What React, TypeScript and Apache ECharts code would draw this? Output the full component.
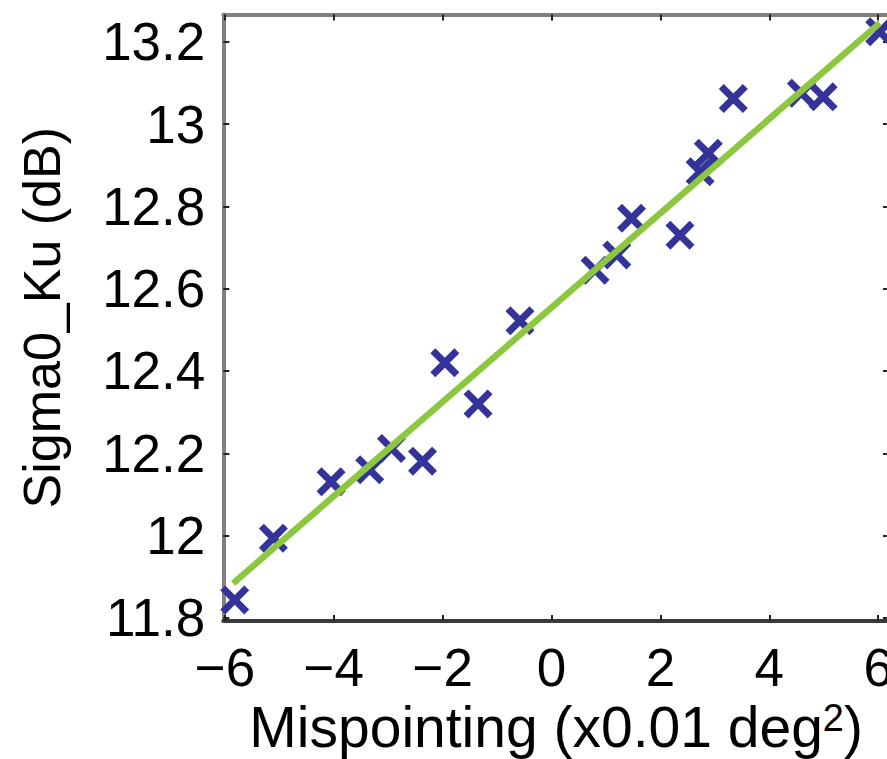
import React, { useEffect, useRef } from "react";
import * as echarts from "echarts";

// Measured points (mispointing x0.01 deg², Sigma0_Ku dB)
const mispointing = [
  -5.82, -5.11, -4.05, -3.34, -2.94, -2.37, -1.96, -1.35, -0.58, 0.8, 1.2,
  1.47, 2.36, 2.73, 2.88, 3.34, 4.59, 4.99, 6.03,
];
const sigma0 = [
  11.844, 11.994, 12.131, 12.16, 12.212, 12.181, 12.42, 12.32, 12.522, 12.645,
  12.682, 12.771, 12.73, 12.884, 12.929, 13.062, 13.075, 13.066, 13.224,
];
// Linear fit end points
const fitX = [-5.85, 6.03];
const fitY = [11.884, 13.245];

const xTicks = [-6, -4, -2, 0, 2, 4, 6];
const yTicks = [11.8, 12, 12.2, 12.4, 12.6, 12.8, 13, 13.2];

const FONT = "'Liberation Sans', Arial, Helvetica, sans-serif";
const CROSS =
  "path://M0,17 L17,0 L50,33 L83,0 L100,17 L67,50 L100,83 L83,100 L50,67 L17,100 L0,83 L33,50 Z";

export default function App() {
  const ref = useRef<HTMLDivElement>(null);
  useEffect(() => {
    if (!ref.current) return;
    const chart = echarts.init(ref.current, undefined, { renderer: "svg" });
    const xFmt = (v: number) => (v < 0 ? "\u2212" + Math.abs(v) : String(v));
    const yFmt = (v: number) => String(Number(v.toFixed(1)));
    const xCommon = { type: "value", min: -6.03, max: 6.2, splitLine: { show: false } };
    const yCommon = { type: "value", min: 11.7927, max: 13.266, splitLine: { show: false } };
    chart.setOption({
      animation: false,
      backgroundColor: "#ffffff",
      grid: { left: 223.3, right: 11, top: 14.5, bottom: 138, containLabel: false, outerBoundsMode: "none" },
      xAxis: [
        {
          ...xCommon,
          position: "bottom",
          axisLine: { show: true, onZero: false, lineStyle: { color: "#3a3a3a", width: 4 } },
          axisTick: { show: true, inside: true, length: 6, customValues: xTicks, lineStyle: { color: "#222", width: 2 } },
          axisLabel: { customValues: xTicks, formatter: xFmt, fontSize: 53, color: "#000", margin: 20, fontFamily: FONT },
          name: "{a|Mispointing (x0.01 deg}{s|2}{a|)}",
          nameLocation: "middle",
          nameGap: 76,
          nameTextStyle: {
            fontFamily: FONT,
            fontSize: 57,
            color: "#000",
            rich: {
              a: { fontFamily: FONT, fontSize: 57, color: "#000" },
              s: { fontFamily: FONT, fontSize: 38, color: "#000", verticalAlign: "top" },
            },
          },
        },
        {
          ...xCommon,
          position: "top",
          axisLine: { show: true, onZero: false, lineStyle: { color: "#808080", width: 4 } },
          axisTick: { show: true, inside: true, length: 6, customValues: xTicks, lineStyle: { color: "#222", width: 2 } },
          axisLabel: { show: false },
        },
      ],
      yAxis: [
        {
          ...yCommon,
          position: "left",
          axisLine: { show: true, onZero: false, lineStyle: { color: "#808080", width: 4 } },
          axisTick: { show: true, inside: true, length: 6, customValues: yTicks, lineStyle: { color: "#222", width: 2 } },
          axisLabel: { customValues: yTicks, formatter: yFmt, fontSize: 53, color: "#000", margin: 18, fontFamily: FONT },
          name: "Sigma0_Ku (dB)",
          nameLocation: "middle",
          nameGap: 155,
          nameRotate: 90,
          nameTextStyle: { fontFamily: FONT, fontSize: 52, color: "#000" },
        },
        {
          ...yCommon,
          position: "right",
          axisLine: { show: true, onZero: false, lineStyle: { color: "#808080", width: 4 } },
          axisTick: { show: true, inside: true, length: 6, customValues: yTicks, lineStyle: { color: "#222", width: 2 } },
          axisLabel: { show: false },
        },
      ],
      series: [
        {
          type: "scatter",
          data: mispointing.map((x, i) => [x, sigma0[i]]),
          symbol: CROSS,
          symbolSize: 29,
          itemStyle: { color: "#333399", opacity: 1 },
          z: 2,
        },
        {
          type: "line",
          data: fitX.map((x, i) => [x, fitY[i]]),
          showSymbol: false,
          symbol: "none",
          lineStyle: { color: "#8dc63f", width: 6.5, opacity: 1 },
          z: 3,
        },
      ],
    });
    return () => chart.dispose();
  }, []);
  return (
    <div style={{ position: "fixed", left: 0, top: 0, width: 887, height: 759, overflow: "hidden", background: "#fff" }}>
      <div ref={ref} style={{ width: 900, height: 759 }} />
    </div>
  );
}
